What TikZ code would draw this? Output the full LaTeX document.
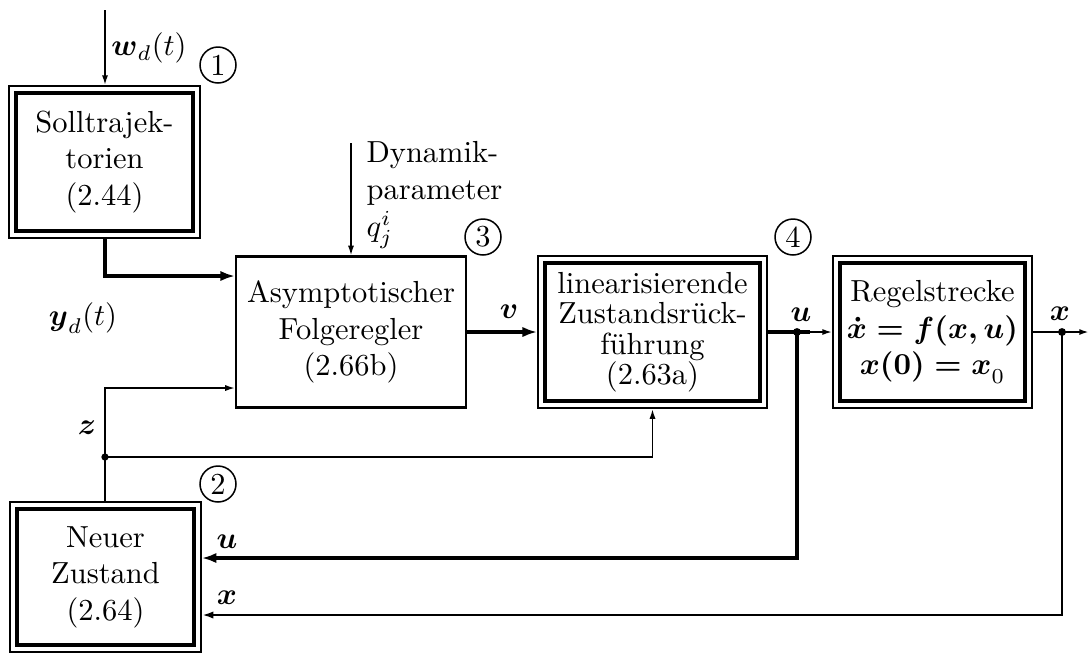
\documentclass[tikz,border=0pt]{standalone}
\usepackage{amsmath,amssymb}
\usetikzlibrary{arrows.meta,calc}
\tikzset{
  tipS/.tip={Latex[length=3.2pt,width=2pt]},
  tipM/.tip={Latex[length=3.8pt,width=2.4pt]},
  tipL/.tip={Latex[length=4.8pt,width=3.4pt]},
  lthin/.style={line width=0.55pt},
  lmid/.style={line width=0.9pt},
  lthick/.style={line width=1.15pt},
  outerbox/.style={draw, line width=0.6pt, align=center, inner sep=0pt,
    path picture={\draw[line width=1.2pt]
      ([shift={(2.3pt,2.3pt)}]path picture bounding box.south west) rectangle
      ([shift={(-2.3pt,-2.3pt)}]path picture bounding box.north east);}},
  singlebox/.style={draw, line width=0.7pt, align=center, inner sep=0pt},
  numcirc/.style={draw, circle, line width=0.5pt, minimum size=11.8pt, inner sep=0pt},
  lab/.style={inner sep=0pt}
}
\begin{document}
\begin{tikzpicture}[x=0.328pt,y=-0.328pt]
\useasboundingbox (0,0) rectangle (1089,653);
% blocks
\node[outerbox, minimum width=62.6pt, minimum height=49.9pt] (b1) at (104.5,162) {Solltrajek-\\torien\\(2.44)};
\node[outerbox, minimum width=62.6pt, minimum height=49.4pt] (b2) at (105.5,577) {Neuer\\Zustand\\(2.64)};
\node[singlebox, minimum width=75.4pt, minimum height=49.5pt] (b3) at (351,332) {Asymptotischer\\Folgeregler\\(2.66b)};
\node[outerbox, minimum width=75.1pt, minimum height=49.9pt] (b4) at (652.5,332) {linearisierende\\[-2pt]Zustandsr\"uck-\\[-2pt]f\"uhrung\\[-2pt](2.63a)};
\node[outerbox, minimum width=65.3pt, minimum height=49.9pt] (b5) at (932.5,332) {Regelstrecke\\$\boldsymbol{\dot{x}=f(x,u)}$\\$\boldsymbol{x(0)=x}_0$};
% numbers
\node[numcirc] (c1) at (218,65) {1};
\node[numcirc] (c2) at (218,484) {2};
\node[numcirc] (c3) at (483,237) {3};
\node[numcirc] (c4) at (793,237) {4};
% labels
\node[lab] (wlab) at (149,48) {$\boldsymbol{w}_d(t)$};
\node[lab] (ydlab) at (83,318) {$\boldsymbol{y}_d(t)$};
\node[lab] (zlab) at (87,428) {$\boldsymbol{z}$};
\node[lab] (vlab) at (509,312) {$\boldsymbol{v}$};
\node[lab] (ulab) at (801,315) {$\boldsymbol{u}$};
\node[lab] (xlab) at (1060,314) {$\boldsymbol{x}$};
\node[lab] (ublab) at (227,542) {$\boldsymbol{u}$};
\node[lab] (xblab) at (227,598) {$\boldsymbol{x}$};
\node[lab, align=left, anchor=west] (dyn) at (366,195) {Dynamik-\\parameter\\$q_j^i$};
% coordinates
\coordinate (wtop) at (105,10);
\coordinate (dtop) at (351,143);
\coordinate (ydlev) at (0,276);
\coordinate (zlev) at (0,388);
\coordinate (zdot) at (105,457);
\coordinate (udot) at (797,332);
\coordinate (uend) at (810,332);
\coordinate (xdot) at (1062,332);
\coordinate (xend) at (1089,332);
\coordinate (ulev) at (0,558);
\coordinate (xlev) at (0,615);
% connectors
\draw[lthin,-tipS] (wtop) -- (wtop |- b1.north);
\draw[lthin,-tipS] (dtop) -- (b3.north);
\draw[lthick,-tipL] (wtop |- b1.south) |- (b3.west |- ydlev);
\draw[lthin,-tipS] (zdot |- b2.north) |- (b3.west |- zlev);
\draw[lthin,-tipS] (zdot) -| (b4.south);
\fill (zdot) circle (1.2pt);
\draw[lthick,-tipL] (b3.east) -- (b4.west);
\draw[lthick] (b4.east) -- (uend);
\draw[lthin,-tipS] (uend) -- (b5.west);
\draw[lthick,-tipL] (udot) |- (b2.east |- ulev);
\fill (udot) circle (1.3pt);
\draw[lthin,line width=0.7pt,-tipS] (b5.east) -- (xend);
\draw[lmid,-tipM] (xdot) |- (b2.east |- xlev);
\fill (xdot) circle (1.3pt);
\end{tikzpicture}
\end{document}
